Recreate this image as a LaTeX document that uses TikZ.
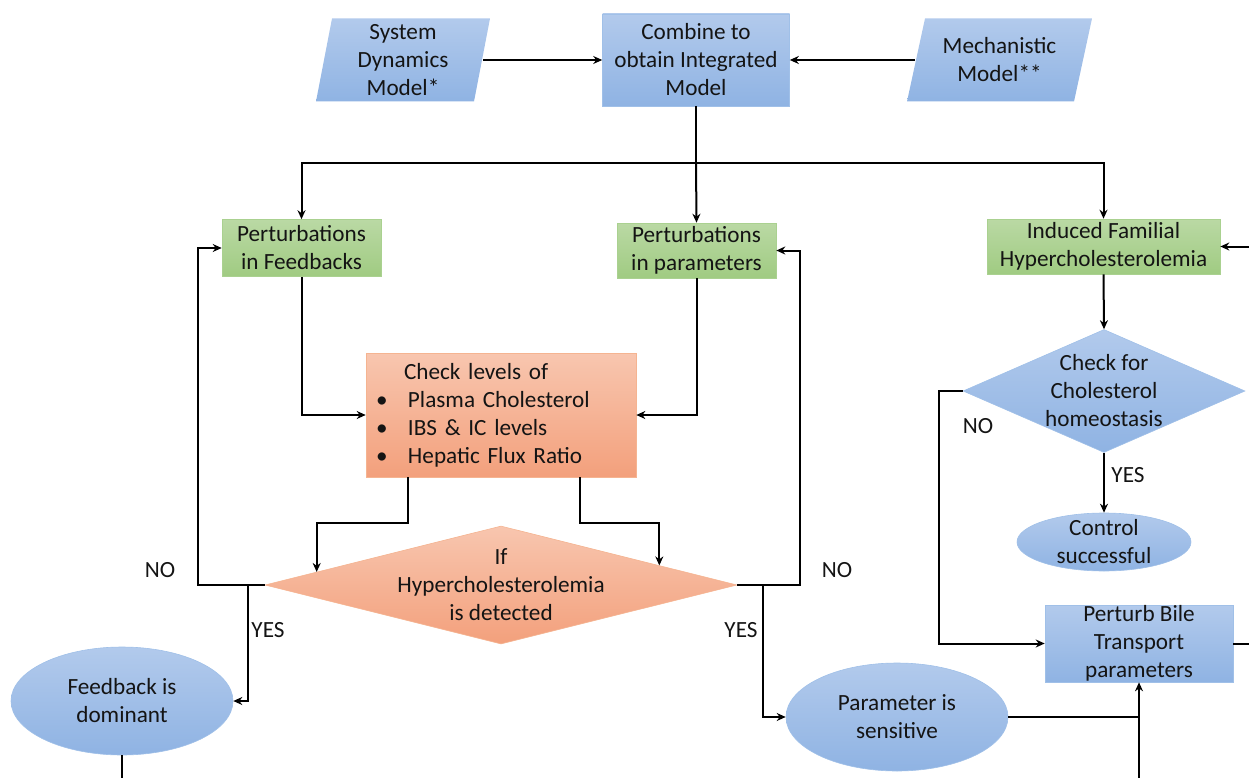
\documentclass[tikz,border=0pt]{standalone}
\usepackage{fontspec}
\setmainfont{Carlito}
\usepackage{tikz}
\usetikzlibrary{shapes.geometric,arrows.meta,calc}
\definecolor{blueA}{RGB}{178,202,236}
\definecolor{blueB}{RGB}{143,179,227}
\definecolor{blueLine}{RGB}{160,192,232}
\definecolor{greenA}{RGB}{186,217,164}
\definecolor{greenB}{RGB}{160,203,130}
\definecolor{greenLine}{RGB}{170,209,144}
\definecolor{orangeA}{RGB}{248,198,175}
\definecolor{orangeB}{RGB}{243,160,124}
\definecolor{orangeLine}{RGB}{245,180,145}
\definecolor{txtgray}{RGB}{20,20,20}
\tikzset{
  every node/.style={font=\fontsize{23.2}{28}\selectfont, text=txtgray, align=center, inner sep=0pt},
  bluebox/.style={rectangle, draw=blueLine, line width=0.6pt, top color=blueA, bottom color=blueB},
  greenbox/.style={rectangle, draw=greenLine, line width=0.6pt, top color=greenA, bottom color=greenB},
  orangebox/.style={rectangle, draw=orangeLine, line width=0.6pt, top color=orangeA, bottom color=orangeB},
  blueoval/.style={ellipse, draw=blueLine, line width=0.6pt, top color=blueA, bottom color=blueB},
  bluediam/.style={diamond, draw=blueLine, line width=0.6pt, top color=blueA, bottom color=blueB},
  orangediam/.style={diamond, draw=orangeLine, line width=0.6pt, top color=orangeA, bottom color=orangeB},
  slantbox/.style={rectangle, path picture={
    \shade[top color=blueA, bottom color=blueB]
      ([xshift=#1]path picture bounding box.north west) -- (path picture bounding box.north east)
      -- ([xshift=-#1]path picture bounding box.south east) -- (path picture bounding box.south west) -- cycle;}},
  arr/.style={-{Stealth[length=9pt,width=8pt]}},
  wire/.style={line width=2pt, black}
}
\begin{document}
\begin{tikzpicture}[x=1pt, y=-1pt, wire]
\useasboundingbox (0,0) rectangle (1249,778);
\clip (0,0) rectangle (1249,778);

\node[slantbox=16pt, minimum width=174pt, minimum height=83pt] (sd) at (403,60) {System\\Dynamics\\Model*};
\node[bluebox, minimum width=187pt, minimum height=92pt] (comb) at (696,60) {Combine to\\obtain Integrated\\Model};
\node[slantbox=18pt, minimum width=185pt, minimum height=83pt] (mech) at (999.5,60) {Mechanistic\\Model**};

\node[greenbox, minimum width=159pt, minimum height=57pt] (pfb) at (301.5,248) {Perturbations\\in Feedbacks};
\node[greenbox, minimum width=159pt, minimum height=55pt] (ppar) at (696.5,250.5) {Perturbations\\in parameters};
\node[greenbox, minimum width=233pt, minimum height=55pt] (ifh) at (1103.5,246.5) {Induced Familial\\Hypercholesterolemia};

\node[orangebox, minimum width=270pt, minimum height=124pt, text width=256pt, align=left] (check) at (501,415)
  {\hspace*{31pt}Check levels of\\
   \hspace*{3pt}\makebox[32pt][l]{\textbullet}Plasma Cholesterol\\
   \hspace*{3pt}\makebox[32pt][l]{\textbullet}IBS \& IC levels\\
   \hspace*{3pt}\makebox[32pt][l]{\textbullet}Hepatic Flux Ratio};
\node[orangediam, minimum width=472pt, minimum height=118pt,
  label={center:If\\Hypercholesterolemia\\is detected}] (ifhc) at (501,585) {};

\node[bluediam, minimum width=282pt, minimum height=123pt,
  label={center:Check for\\Cholesterol\\homeostasis}] (hom) at (1104,391) {};
\node[blueoval, minimum width=174pt, minimum height=58pt,
  label={center:Control\\successful}] (ctrl) at (1104,542) {};
\node[bluebox, minimum width=188pt, minimum height=77pt,
  label={center:Perturb Bile\\Transport\\parameters}] (pbile) at (1139,643.5) {};

\node[blueoval, minimum width=222pt, minimum height=108pt] (fbd) at (122,701) {Feedback is\\dominant};
\node[blueoval, minimum width=222pt, minimum height=108pt] (psens) at (897,717) {Parameter is\\sensitive};

\node (no1) at (160,570) {NO};
\node (yes1) at (268,630) {YES};
\node (no2) at (837,570) {NO};
\node (yes2) at (741,630) {YES};
\node (no3) at (978,426) {NO};
\node (yes3) at (1128,475) {YES};

\coordinate (split) at (696,163);
\coordinate (offb1) at (122,800);
\coordinate (offb2) at (1139,800);
\coordinate (offr1) at (1275,643.5);
\coordinate (offr2) at (1275,246.5);

\draw[arr] ([xshift=-8pt]sd.east) -- (comb.west);
\draw[arr] ([xshift=9pt]mech.west) -- (comb.east);
\draw (comb.south) -- (split);
\draw[arr] (split) -| (pfb.north);
\draw[arr] (split) -- (ppar.north);
\draw[arr] (split) -| (ifh.north);
\draw[arr] (pfb.south) |- (check.west);
\draw[arr] (ppar.south) |- (check.east);
\draw[arr] ([xshift=-93pt]check.south) -- ++(0,46) -| ($(ifhc.west)!0.22!(ifhc.north)$);
\draw[arr] ([xshift=79pt]check.south) -- ++(0,46) -| ($(ifhc.east)!0.33!(ifhc.north)$);
\draw[arr] (ifhc.west) -- ++(-67,0) |- (pfb.west);
\draw[arr] (ifhc.west) -- ++(-17,0) |- (fbd.east);
\draw[arr] (ifhc.east) -- ++(63,0) |- (ppar.east);
\draw[arr] (ifhc.east) -- ++(26,0) |- (psens.west);
\draw[arr] (ifh.south) -- (hom.north);
\draw[arr] (hom.south) -- (ctrl.north);
\draw[arr] (hom.west) -- ++(-24,0) |- (pbile.west);
\draw (psens.east) -- (psens.east -| pbile.south);
\draw[arr] (offb2) -- (pbile.south);
\draw (fbd.south) -- (offb1);
\draw (pbile.east) -- (offr1);
\draw[arr] (offr2) -- (ifh.east);
\end{tikzpicture}
\end{document}
